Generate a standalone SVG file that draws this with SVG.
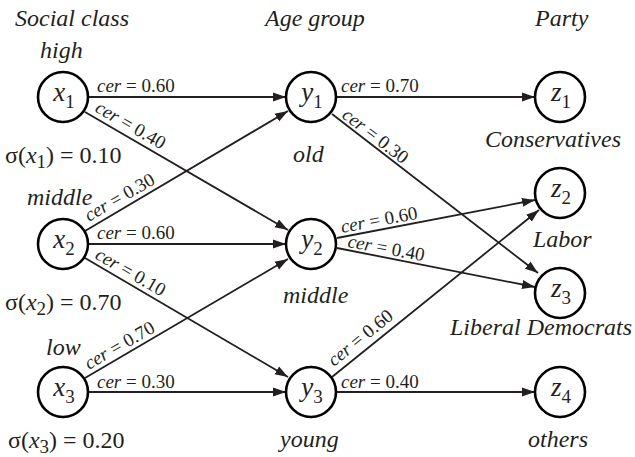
<svg xmlns="http://www.w3.org/2000/svg" width="635" height="457" viewBox="0 0 635 457">
<style>
text{font-family:"Liberation Serif","Times New Roman",serif;fill:#231f20}
.h{font-size:24px;font-style:italic}
.n{font-size:27px}
.n .v{font-style:italic}
.sub{font-size:19px}
.e{font-size:19px}
.e .i{font-style:italic}
.s{font-size:24px}
.s .i{font-style:italic}
circle{fill:#fff;stroke:#000;stroke-width:2.6}
.c line{stroke:#231f20;stroke-width:1.8;marker-end:url(#ah)}
</style>
<defs>
<marker id="ah" markerUnits="userSpaceOnUse" markerWidth="14" markerHeight="10" refX="13" refY="5" orient="auto">
<path d="M0,0.5 L13,5 L0,9.5 z" fill="#231f20"/>
</marker>
</defs>
<g id="headers">
<text class="h" x="15" y="26">Social class</text>
<text class="h" x="265" y="26">Age group</text>
<text class="h" x="535" y="26">Party</text>
</g>
<g class="c" id="connectors">
<line x1="88" y1="97" x2="286" y2="97"/>
<line x1="85" y1="112" x2="288" y2="230"/>
<line x1="85" y1="231" x2="288" y2="111"/>
<line x1="88" y1="244" x2="286" y2="244"/>
<line x1="85" y1="258" x2="288" y2="377"/>
<line x1="85" y1="378" x2="288" y2="259"/>
<line x1="88" y1="392" x2="286" y2="392"/>
<line x1="336" y1="97" x2="535" y2="97"/>
<line x1="332" y1="114" x2="538" y2="273"/>
<line x1="337" y1="238" x2="535" y2="200"/>
<line x1="337" y1="248" x2="535" y2="287"/>
<line x1="332" y1="377" x2="539" y2="210"/>
<line x1="336" y1="392" x2="535" y2="392"/>
</g>
<g id="edge-labels" class="e">
<text x="97" y="92"><tspan class="i">cer</tspan> = 0.60</text>
<text transform="translate(94,111) rotate(30)"><tspan class="i">cer</tspan> = 0.40</text>
<text transform="translate(89,222) rotate(-30)"><tspan class="i">cer</tspan> = 0.30</text>
<text x="97" y="239"><tspan class="i">cer</tspan> = 0.60</text>
<text transform="translate(94,258) rotate(30)"><tspan class="i">cer</tspan> = 0.10</text>
<text transform="translate(89,370) rotate(-30)"><tspan class="i">cer</tspan> = 0.70</text>
<text x="97" y="388"><tspan class="i">cer</tspan> = 0.30</text>
<text x="341" y="92"><tspan class="i">cer</tspan> = 0.70</text>
<text transform="translate(341,117) rotate(37.7)"><tspan class="i">cer</tspan> = 0.30</text>
<text transform="translate(342,233) rotate(-10.6)"><tspan class="i">cer</tspan> = 0.60</text>
<text transform="translate(347,247) rotate(10.6)"><tspan class="i">cer</tspan> = 0.40</text>
<text transform="translate(334,367) rotate(-39)"><tspan class="i">cer</tspan> = 0.60</text>
<text x="341" y="388"><tspan class="i">cer</tspan> = 0.40</text>
</g>
<g id="x1"><circle cx="63" cy="97" r="25"/><text class="n" x="64" y="101" text-anchor="middle"><tspan class="v">x</tspan><tspan class="sub" dy="7">1</tspan></text>
<text class="h" x="40" y="58">high</text>
<text class="s" x="5" y="163">σ(<tspan class="i">x</tspan><tspan class="sub" dy="5">1</tspan><tspan dy="-5">) = 0.10</tspan></text></g>
<g id="x2"><circle cx="63" cy="244" r="25"/><text class="n" x="64" y="248" text-anchor="middle"><tspan class="v">x</tspan><tspan class="sub" dy="7">2</tspan></text>
<text class="h" x="27" y="205">middle</text>
<text class="s" x="5" y="310">σ(<tspan class="i">x</tspan><tspan class="sub" dy="5">2</tspan><tspan dy="-5">) = 0.70</tspan></text></g>
<g id="x3"><circle cx="63" cy="392" r="25"/><text class="n" x="64" y="396" text-anchor="middle"><tspan class="v">x</tspan><tspan class="sub" dy="7">3</tspan></text>
<text class="h" x="46" y="355">low</text>
<text class="s" x="8" y="448">σ(<tspan class="i">x</tspan><tspan class="sub" dy="5">3</tspan><tspan dy="-5">) = 0.20</tspan></text></g>
<g id="y1"><circle cx="311" cy="97" r="25"/><text class="n" x="312" y="101" text-anchor="middle"><tspan class="v">y</tspan><tspan class="sub" dy="7">1</tspan></text>
<text class="h" x="293" y="162">old</text></g>
<g id="y2"><circle cx="311" cy="244" r="25"/><text class="n" x="312" y="248" text-anchor="middle"><tspan class="v">y</tspan><tspan class="sub" dy="7">2</tspan></text>
<text class="h" x="283" y="303">middle</text></g>
<g id="y3"><circle cx="311" cy="392" r="25"/><text class="n" x="312" y="396" text-anchor="middle"><tspan class="v">y</tspan><tspan class="sub" dy="7">3</tspan></text>
<text class="h" x="280" y="447">young</text></g>
<g id="z1"><circle cx="560" cy="97" r="25"/><text class="n" x="561" y="101" text-anchor="middle"><tspan class="v">z</tspan><tspan class="sub" dy="7">1</tspan></text>
<text class="h" x="485" y="147">Conservatives</text></g>
<g id="z2"><circle cx="560" cy="193" r="25"/><text class="n" x="561" y="197" text-anchor="middle"><tspan class="v">z</tspan><tspan class="sub" dy="7">2</tspan></text>
<text class="h" x="533" y="247">Labor</text></g>
<g id="z3"><circle cx="560" cy="293" r="25"/><text class="n" x="561" y="297" text-anchor="middle"><tspan class="v">z</tspan><tspan class="sub" dy="7">3</tspan></text>
<text class="h" x="450" y="335">Liberal Democrats</text></g>
<g id="z4"><circle cx="560" cy="392" r="25"/><text class="n" x="561" y="396" text-anchor="middle"><tspan class="v">z</tspan><tspan class="sub" dy="7">4</tspan></text>
<text class="h" x="528" y="447">others</text></g>
</svg>
